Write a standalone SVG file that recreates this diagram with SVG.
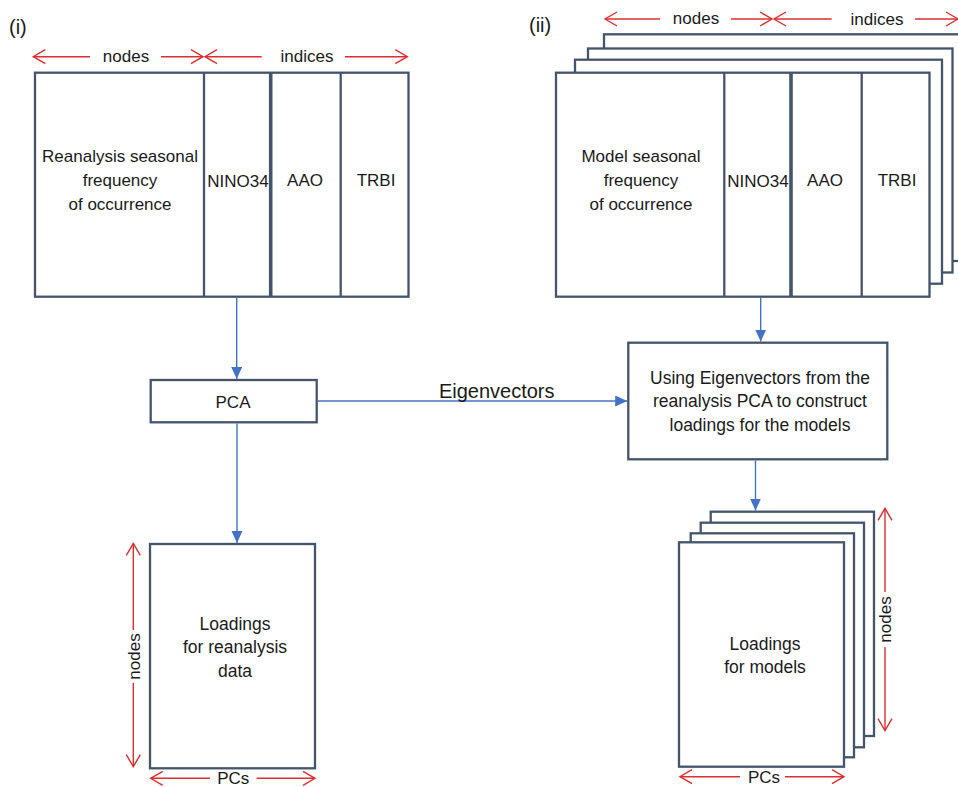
<svg xmlns="http://www.w3.org/2000/svg" width="958" height="787" viewBox="0 0 958 787">
  <style>
    .box { fill: #ffffff; stroke: #44546a; stroke-width: 2.3; }
    .div { stroke: #44546a; stroke-width: 2.3; fill: none; }
    .t { font-family: "Liberation Sans", Arial, sans-serif; font-size: 17px; fill: #1a1a1a; text-anchor: middle; }
    .lbl { font-family: "Liberation Sans", Arial, sans-serif; font-size: 20px; fill: #1a1a1a; }
    .dim { stroke: #dc2f2f; stroke-width: 1.4; fill: none; marker-end: url(#chev); }
    .link { stroke: #4472c4; stroke-width: 1.4; fill: none; marker-end: url(#tri); }
  </style>
  <defs>
    <marker id="chev" markerUnits="userSpaceOnUse" markerWidth="14" markerHeight="16" refX="12" refY="7" orient="auto" overflow="visible">
      <path d="M0,0 L12,7 L0,14" fill="none" stroke="#dc2f2f" stroke-width="1.4"/>
    </marker>
    <marker id="tri" markerUnits="userSpaceOnUse" markerWidth="13" markerHeight="12" refX="12" refY="5.5" orient="auto">
      <path d="M0,0 L12,5.5 L0,11 z" fill="#4472c4"/>
    </marker>
  </defs>

  <!-- panel labels -->
  <text class="lbl" x="9" y="34">(i)</text>
  <text class="lbl" x="529" y="32">(ii)</text>

  <!-- (i) reanalysis input table -->
  <g id="reanalysis-table">
    <rect class="box" x="35" y="72.7" width="373.5" height="224"/>
    <line class="div" x1="204" y1="72.7" x2="204" y2="296.7"/>
    <line class="div" x1="270.7" y1="72.7" x2="270.7" y2="296.7" style="stroke-width:3.6"/>
    <line class="div" x1="340.7" y1="72.7" x2="340.7" y2="296.7"/>
    <text class="t" x="120" y="162">Reanalysis seasonal</text>
    <text class="t" x="120" y="186">frequency</text>
    <text class="t" x="120" y="210">of occurrence</text>
    <text class="t" x="238" y="187">NINO34</text>
    <text class="t" x="305" y="186">AAO</text>
    <text class="t" x="376" y="186">TRBI</text>
  </g>

  <!-- (ii) stacked model input tables -->
  <g id="model-tables">
    <rect class="box" x="604" y="34.3" width="370" height="226.7"/>
    <rect class="box" x="588" y="48.5" width="364.5" height="224"/>
    <rect class="box" x="575" y="59.7" width="367" height="224"/>
    <rect class="box" x="556" y="72.7" width="373.5" height="224"/>
    <line class="div" x1="724.3" y1="72.7" x2="724.3" y2="296.7"/>
    <line class="div" x1="791" y1="72.7" x2="791" y2="296.7" style="stroke-width:3.6"/>
    <line class="div" x1="861.7" y1="72.7" x2="861.7" y2="296.7"/>
    <text class="t" x="641" y="162">Model seasonal</text>
    <text class="t" x="641" y="186">frequency</text>
    <text class="t" x="641" y="210">of occurrence</text>
    <text class="t" x="758" y="187">NINO34</text>
    <text class="t" x="825" y="186">AAO</text>
    <text class="t" x="897" y="186">TRBI</text>
  </g>

  <g id="pca">
    <rect class="box" x="150.7" y="380" width="166" height="42.3"/>
    <text class="t" x="233" y="408">PCA</text>
  </g>

  <g id="construct-loadings">
    <rect class="box" x="628.3" y="342.7" width="259" height="116.6"/>
    <text class="t" x="760" y="383.5" style="font-size:17.5px">Using Eigenvectors from the</text>
    <text class="t" x="760" y="407" style="font-size:17.5px">reanalysis PCA to construct</text>
    <text class="t" x="760" y="430.5" style="font-size:17.5px">loadings for the models</text>
  </g>

  <g id="reanalysis-loadings">
    <rect class="box" x="150" y="544" width="165" height="224.3"/>
    <text class="t" x="235" y="629.5" style="font-size:17.5px">Loadings</text>
    <text class="t" x="235" y="653" style="font-size:17.5px">for reanalysis</text>
    <text class="t" x="235" y="676.5" style="font-size:17.5px">data</text>
  </g>

  <g id="model-loadings">
    <rect class="box" x="710.7" y="511.7" width="163.3" height="224.3"/>
    <rect class="box" x="700.7" y="522.7" width="163.3" height="224.6"/>
    <rect class="box" x="690.7" y="533.3" width="163.3" height="224"/>
    <rect class="box" x="679" y="542.3" width="165" height="224.4"/>
    <text class="t" x="765" y="649.5" style="font-size:17.5px">Loadings</text>
    <text class="t" x="765" y="673" style="font-size:17.5px">for models</text>
  </g>

  <!-- dimension arrows -->
  <g id="dimensions">
    <line class="dim" x1="90" y1="56.7" x2="33.3" y2="56.7"/>
    <line class="dim" x1="161" y1="56.7" x2="203" y2="56.7"/>
    <text class="t" x="126" y="61.5">nodes</text>
    <line class="dim" x1="261.7" y1="56.7" x2="205" y2="56.7"/>
    <line class="dim" x1="345" y1="56.7" x2="407.3" y2="56.7"/>
    <text class="t" x="307" y="62">indices</text>

    <line class="dim" x1="660" y1="19" x2="605" y2="19"/>
    <line class="dim" x1="731" y1="19" x2="772" y2="19"/>
    <text class="t" x="696" y="24">nodes</text>
    <line class="dim" x1="831.7" y1="19" x2="774" y2="19"/>
    <line class="dim" x1="915" y1="19" x2="958" y2="19"/>
    <text class="t" x="877" y="24.5">indices</text>

    <line class="dim" x1="133.3" y1="630" x2="133.3" y2="543.3"/>
    <line class="dim" x1="133.3" y1="683" x2="133.3" y2="766.7"/>
    <text class="t" transform="translate(139.5,656.5) rotate(-90)" x="0" y="0">nodes</text>

    <line class="dim" x1="885" y1="592" x2="885" y2="508.3"/>
    <line class="dim" x1="885" y1="647" x2="885" y2="730.7"/>
    <text class="t" transform="translate(891,619.5) rotate(-90)" x="0" y="0">nodes</text>

    <line class="dim" x1="210" y1="778.3" x2="150.7" y2="778.3"/>
    <line class="dim" x1="256.7" y1="778.3" x2="315" y2="778.3"/>
    <text class="t" x="233.3" y="783.5">PCs</text>

    <line class="dim" x1="740" y1="776.7" x2="680" y2="776.7"/>
    <line class="dim" x1="785" y1="776.7" x2="844" y2="776.7"/>
    <text class="t" x="764" y="782.5">PCs</text>
  </g>

  <!-- flow connectors -->
  <g id="connectors">
    <line class="link" x1="236.7" y1="297.8" x2="236.7" y2="379"/>
    <line class="link" x1="237" y1="423.4" x2="237" y2="543"/>
    <line class="link" x1="317.8" y1="401" x2="627.2" y2="401"/>
    <line class="link" x1="760.7" y1="297.8" x2="760.7" y2="341.6"/>
    <line class="link" x1="755.5" y1="460.4" x2="755.5" y2="510.6"/>
    <text class="lbl" x="496.7" y="398" text-anchor="middle">Eigenvectors</text>
  </g>
</svg>
